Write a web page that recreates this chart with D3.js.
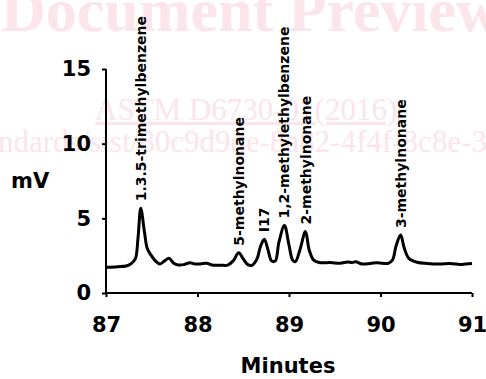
<!DOCTYPE html>
<html>
<head>
<meta charset="utf-8">
<script src="https://cdn.jsdelivr.net/npm/d3@7"></script>
<style>
  html, body { margin: 0; padding: 0; background: #fff; }
  svg { display: block; }
</style>
</head>
<body>
<svg id="chart" width="486" height="379"></svg>
<script>
// Chromatogram trace: retention time (minutes) and detector signal (mV)
const times = [87.00, 87.13, 87.22, 87.27, 87.32, 87.35, 87.38, 87.42, 87.45, 87.49,
  87.54, 87.59, 87.64, 87.69, 87.74, 87.79, 87.85, 87.92, 87.97, 88.03,
  88.10, 88.16, 88.25, 88.33, 88.39, 88.45, 88.50, 88.55, 88.60, 88.65,
  88.69, 88.73, 88.77, 88.81, 88.85, 88.89, 88.95, 89.00, 89.04, 89.07,
  89.12, 89.18, 89.22, 89.27, 89.34, 89.45, 89.56, 89.64, 89.69, 89.73,
  89.80, 89.89, 89.97, 90.08, 90.13, 90.17, 90.22, 90.26, 90.31, 90.40,
  90.51, 90.64, 90.76, 90.87, 90.93, 91.00];
const signal = [1.72, 1.76, 1.81, 1.94, 2.28, 3.70, 5.67, 4.10, 3.00, 2.55,
  2.15, 1.94, 2.15, 2.32, 2.00, 1.88, 1.90, 2.03, 1.94, 1.95,
  1.99, 1.87, 1.86, 1.87, 2.15, 2.70, 2.28, 1.90, 1.87, 2.28,
  3.15, 3.60, 2.90, 2.15, 2.15, 3.40, 4.52, 3.20, 2.20, 2.10,
  2.90, 4.12, 2.90, 2.20, 2.03, 2.04, 1.99, 2.08, 2.04, 2.09,
  1.94, 1.98, 2.03, 1.98, 2.20, 3.15, 3.88, 3.00, 2.32, 2.06,
  1.98, 1.94, 1.98, 1.91, 1.94, 1.98];

// Identified peaks
const peakNames = ["1.3.5-trimethylbenzene", "5-methylnonane", "I17",
  "1,2-methylethylbenzene", "2-methylnonane", "3-methylnonane"];
const peakTimes = [87.38, 88.45, 88.73, 88.95, 89.18, 90.22];
const peakHeights = [5.67, 2.70, 3.60, 4.52, 4.12, 3.88];

// Axis ticks and titles
const xTicks = [87, 88, 89, 90, 91];
const yTicks = [0, 5, 10, 15];
const xTitle = "Minutes";
const yTitle = "mV";

const svg = d3.select("#chart");
const font = "'DejaVu Sans', Verdana, sans-serif";
const pink = "#fce4eb";

// Faint document watermark behind the chart
const wm = svg.append("g").attr("fill", pink)
  .attr("font-family", "'Liberation Serif', 'Times New Roman', serif");
wm.append("text").attr("x", 1).attr("y", 31)
  .attr("font-size", 62).attr("font-weight", "bold")
  .text("Document Preview");
wm.append("text").attr("x", 95).attr("y", 120)
  .attr("font-size", 31).attr("text-decoration", "underline")
  .text("ASTM D6730-01(2016)");
wm.append("text").attr("x", -2).attr("y", 152)
  .attr("font-size", 31)
  .text("ndards/sist/80c9d9de-8a82-4f4f-8c8e-3c");

const x = d3.scaleLinear().domain([87, 91]).range([106, 472]);
const y = d3.scaleLinear().domain([0, 15]).range([293, 69]);

// X axis
const xAxis = svg.append("g")
  .attr("transform", `translate(0,${y(0)})`)
  .call(d3.axisBottom(x).tickValues(xTicks).tickSize(4).tickPadding(20)
    .tickFormat(d3.format("d")));
xAxis.select(".domain").attr("stroke", "#000").attr("stroke-width", 2)
  .attr("d", `M${x(87)},0H${x(91)}`);
xAxis.selectAll(".tick line").attr("stroke", "#000").attr("stroke-width", 2);
xAxis.selectAll(".tick text").attr("font-family", font).attr("font-weight", "bold")
  .attr("font-size", 21).attr("fill", "#000");

// Y axis
const yAxis = svg.append("g")
  .attr("transform", `translate(${x(87)},0)`)
  .call(d3.axisLeft(y).tickValues(yTicks).tickSize(4).tickPadding(11)
    .tickFormat(d3.format("d")));
yAxis.select(".domain").attr("stroke", "#000").attr("stroke-width", 2)
  .attr("d", `M0,${y(15)}V${y(0)}`);
yAxis.selectAll(".tick line").attr("stroke", "#000").attr("stroke-width", 2);
yAxis.selectAll(".tick text").attr("font-family", font).attr("font-weight", "bold")
  .attr("font-size", 21).attr("fill", "#000");

// Axis titles
svg.append("text").attr("x", 288).attr("y", 373).attr("text-anchor", "middle")
  .attr("font-family", font).attr("font-weight", "bold").attr("font-size", 21)
  .text(xTitle);
svg.append("text").attr("x", 11).attr("y", 188)
  .attr("font-family", font).attr("font-weight", "bold").attr("font-size", 21)
  .text(yTitle);

// Signal trace
const pts = times.map((t, i) => [t, signal[i]]);
svg.append("path")
  .datum(pts)
  .attr("fill", "none")
  .attr("stroke", "#000")
  .attr("stroke-width", 3)
  .attr("stroke-linejoin", "round")
  .attr("d", d3.line().x(d => x(d[0])).y(d => y(d[1])).curve(d3.curveCatmullRom.alpha(0.5)));

// Peak labels, written vertically above each peak
svg.append("g").selectAll("text")
  .data(peakNames)
  .join("text")
  .attr("transform", (d, i) => `translate(${x(peakTimes[i])},${y(peakHeights[i]) - 7}) rotate(-90)`)
  .attr("dy", "0.36em")
  .attr("font-family", font).attr("font-weight", "bold").attr("font-size", 14)
  .attr("fill", "#000")
  .text(d => d);
</script>
</body>
</html>
